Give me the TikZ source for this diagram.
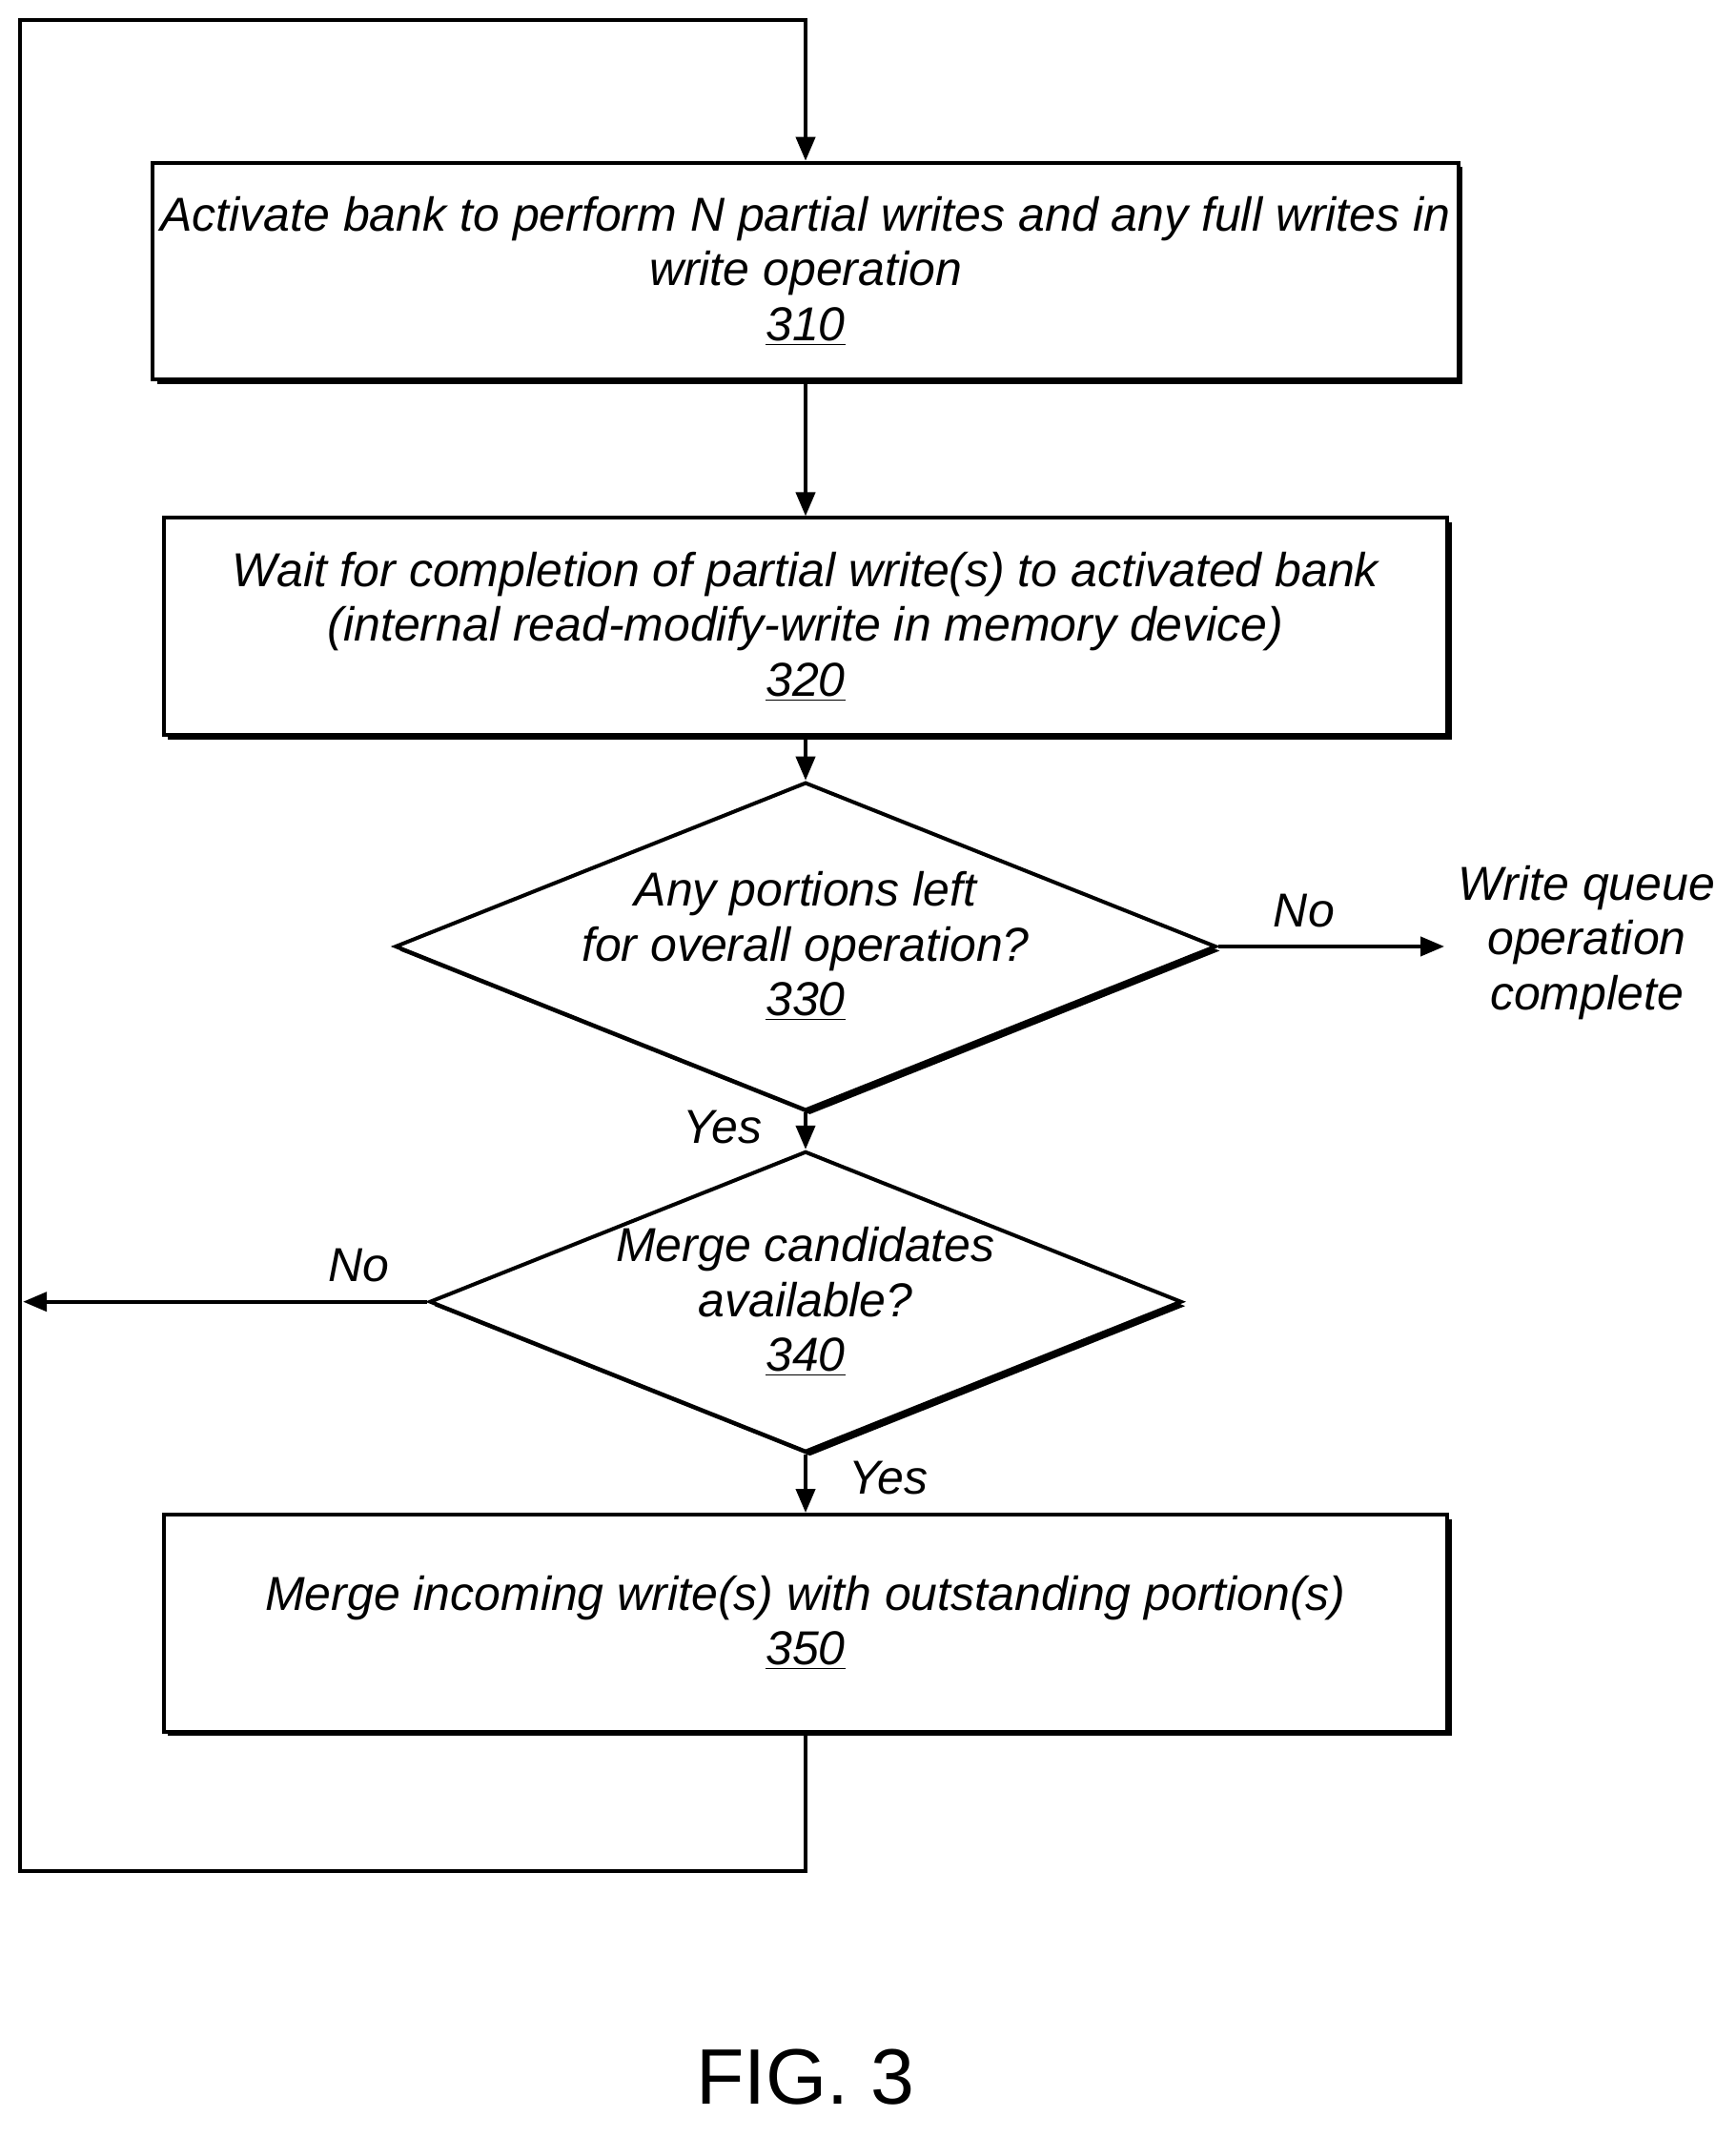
\documentclass[tikz,border=0pt]{standalone}
\usepackage{fontspec}
\setmainfont{Liberation Sans}
\usetikzlibrary{shapes.geometric,shadows,arrows.meta}
\tikzset{
    stage/.style={draw,line width=1.6pt,fill=white,minimum width=18.94cm,minimum height=3.2cm,align=center,
      drop shadow={shadow xshift=1.8pt,shadow yshift=-1.8pt,fill=black,opacity=1}},
    test/.style={draw,diamond,line width=1.6pt,fill=white,minimum width=10.52cm,minimum height=4.2cm,align=center,inner sep=0pt,aspect=2.5,
      drop shadow={shadow xshift=1.8pt,shadow yshift=-1.8pt,fill=black,opacity=1}},
    flow/.style={line width=1.6pt,-{Triangle[length=10pt,width=8pt]}},
    word/.style={font=\itshape\fontsize{20}{23}\selectfont},
  }
\begin{document}
\begin{tikzpicture}[x=0.02cm,y=-0.02cm,every node/.style={word}]
				  \useasboundingbox (0,0) rectangle (1280,1576);
				  %boxes
				  \node[stage](A) at (594,200) {Activate bank to perform N partial writes and any full writes in\\write operation\\\underline{310}};
				  \node[stage](B) at (594,462) {Wait for completion of partial write(s) to activated bank\\(internal read-modify-write in memory device)\\\underline{320}};
				  \node[test](C) at (594,698) {Any portions left\\for overall operation?\\\underline{330}};
				  \node[test](D) at (594,960) {Merge candidates\\available?\\\underline{340}};
				  \node[stage](E) at (594,1197) {Merge incoming write(s) with outstanding portion(s)\\\underline{350}};
				  \node[align=center](F) at (1170,695) {Write queue\\operation\\complete};
				  \node(G) at (594,1532) {\upshape\fontsize{33}{36}\selectfont FIG. 3};
				  \coordinate(L) at (17,960);
				  \draw[flow] (A) -- (B);
				  \draw[flow] (B) -- (C);
				  \draw[flow] (C) -- node[pos=0.4,left=14pt]{Yes} (D);
				  \draw[flow] (D) -- node[pos=0.4,right=14pt]{Yes} (E);
				  \draw[flow] (C.east) -- node[pos=0.38,above=4pt]{No} (1065,698);
				  \draw[flow] (D.west) -- node[pos=0.17,above=4pt]{No} (L);
				  \draw[flow] (E.south) -- (594,1380) -- (15,1380) -- (15,15) -- (594,15) -- (A.north);
				  \end{tikzpicture}
\end{document}
